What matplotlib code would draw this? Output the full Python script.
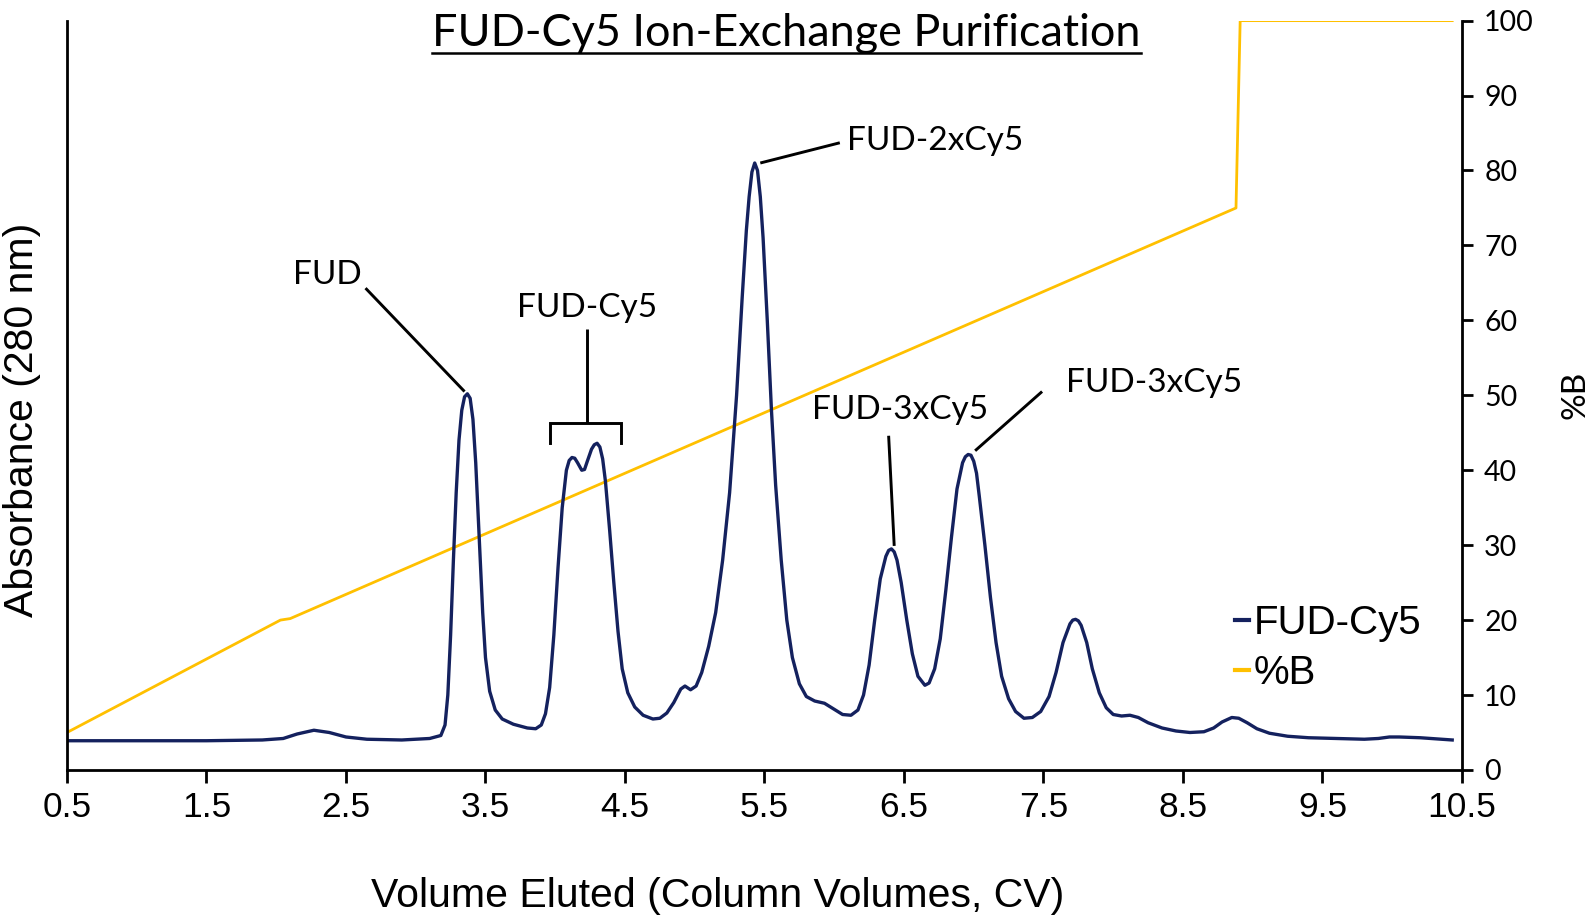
import numpy as np
import matplotlib.pyplot as plt
from matplotlib.lines import Line2D

# Elution volume (CV) and absorbance trace (arbitrary units, same scale as %B axis)
cv = [0.5, 1.0, 1.5, 1.9, 2.05, 2.15, 2.27, 2.38, 2.5, 2.65, 2.9, 3.1, 3.18,
      3.21, 3.23, 3.25, 3.27, 3.29, 3.31, 3.33, 3.35, 3.37, 3.39, 3.41, 3.43, 3.44,
      3.46, 3.48, 3.50, 3.53, 3.57, 3.62, 3.70, 3.80, 3.86, 3.90, 3.93,
      3.96, 3.99, 4.02, 4.05, 4.08, 4.10, 4.12, 4.14, 4.16, 4.19, 4.21, 4.23, 4.26,
      4.28, 4.30, 4.32, 4.34, 4.36,
      4.39, 4.42, 4.45, 4.48, 4.52, 4.57, 4.63, 4.70, 4.75, 4.80, 4.85, 4.90, 4.93,
      4.97, 5.01, 5.05, 5.10,
      5.15, 5.20, 5.25, 5.30, 5.34, 5.37, 5.39, 5.41, 5.43, 5.45, 5.47, 5.49, 5.52,
      5.55, 5.58, 5.62, 5.66, 5.70, 5.75, 5.80, 5.86, 5.93, 6.00, 6.06, 6.12, 6.17,
      6.21, 6.25, 6.29, 6.33, 6.37, 6.39, 6.41, 6.43, 6.45, 6.48, 6.52, 6.56, 6.60,
      6.65, 6.68, 6.72, 6.76, 6.80, 6.84, 6.88, 6.92, 6.94, 6.96, 6.98, 7.00, 7.02,
      7.04, 7.08, 7.12, 7.16, 7.20, 7.25, 7.30, 7.36, 7.42, 7.48, 7.54, 7.59, 7.64,
      7.69, 7.71, 7.73, 7.75, 7.77, 7.81, 7.85, 7.90,
      7.95, 8.00, 8.06, 8.12, 8.18, 8.25, 8.35, 8.45, 8.55, 8.65, 8.72, 8.78, 8.85,
      8.90, 8.96, 9.03, 9.12, 9.25, 9.40, 9.60, 9.80, 9.90, 9.98, 10.05, 10.20, 10.43]
absorb = [3.9, 3.9, 3.9, 4.0, 4.2, 4.8, 5.3, 5.0, 4.4, 4.1, 4.0, 4.2, 4.6,
          6.0, 10, 18, 28, 37, 44, 48, 49.8, 50.2, 49.6, 46.8, 41, 37,
          29, 21, 15, 10.5, 8.0, 6.8, 6.1, 5.6, 5.5, 6.0, 7.5,
          11, 18, 27, 35, 40, 41.3, 41.7, 41.6, 41.0, 40.0, 40.1, 41.2, 42.8,
          43.4, 43.6, 43.1, 41.5, 38.5,
          32, 25, 18.5, 13.5, 10.3, 8.4, 7.3, 6.8, 6.9, 7.6, 9.0, 10.8, 11.2,
          10.7, 11.2, 13, 16.5,
          21, 28, 37, 50, 63, 72, 76.5, 79.8, 81, 80, 76.5, 71, 60,
          48, 38, 28, 20, 15, 11.5, 9.8, 9.2, 8.9, 8.1, 7.4, 7.3, 8.0,
          10, 14, 20, 25.5, 28.5, 29.3, 29.5, 29.1, 28.0, 25, 20, 15.5, 12.5,
          11.3, 11.6, 13.5, 17.5, 24, 31, 37.5, 41, 41.8, 42.1, 42.0, 41.2, 39.6,
          36.5, 30, 23, 17, 12.5, 9.5, 7.8, 6.9, 7.0, 7.8, 9.8, 13, 17,
          19.5, 20.0, 20.1, 19.9, 19.3, 17, 13.5, 10.3,
          8.3, 7.4, 7.2, 7.3, 7.0, 6.3, 5.6, 5.2, 5.0, 5.1, 5.6, 6.4, 7.0,
          6.9, 6.3, 5.5, 4.9, 4.5, 4.3, 4.2, 4.1, 4.2, 4.4, 4.4, 4.3, 4.0]

# Gradient (%B)
cv_b = [0.5, 2.03, 2.10, 8.88, 8.91, 10.43]
pct_b = [5.0, 20.0, 20.2, 75.0, 100.0, 100.0]

x_ticks = [0.5, 1.5, 2.5, 3.5, 4.5, 5.5, 6.5, 7.5, 8.5, 9.5, 10.5]
b_ticks = [0, 10, 20, 30, 40, 50, 60, 70, 80, 90, 100]

navy = '#14215e'
gold = '#ffc000'
calibri = ['Lato', 'DejaVu Sans']
arial = ['Liberation Sans', 'DejaVu Sans']

fig = plt.figure(figsize=(15.95, 9.21), dpi=100)
ax = fig.add_axes([0.042, 0.164, 0.8746, 0.8136])
ax2 = ax.twinx()

ax.plot(cv, absorb, color=navy, lw=2.4, label='FUD-Cy5', solid_joinstyle='round')
ax2.plot(cv_b, pct_b, color=gold, lw=2.0, label='%B')
ax.set_zorder(ax2.get_zorder() + 1)
ax.patch.set_visible(False)

ax.set_xlim(0.5, 10.5)
ax.set_ylim(0, 100)
ax2.set_ylim(0, 100)
ax.set_xticks(x_ticks)
ax.set_xticklabels([f'{t:.1f}' for t in x_ticks], family=arial, fontsize=25.5)
ax.set_yticks([])
ax2.set_yticks(b_ticks)
ax2.set_yticklabels([str(t) for t in b_ticks], family=calibri, fontsize=20.5)

for a in (ax, ax2):
    a.spines['top'].set_visible(False)
    for s in a.spines.values():
        s.set_linewidth(2.0)
ax.spines['right'].set_visible(False)
ax2.spines['left'].set_visible(False)
ax2.spines['bottom'].set_visible(False)
ax.tick_params(axis='x', direction='out', length=9, width=2.0, pad=6)
ax2.tick_params(axis='y', direction='out', length=8, width=2.0, pad=8)

fig.text(0.450, 0.027, 'Volume Eluted (Column Volumes, CV)', family=arial,
         fontsize=29.5, ha='center', va='center')
fig.text(0.014, 0.544, 'Absorbance (280 nm)', family=arial, fontsize=29.5,
         rotation=90, ha='center', va='center')
fig.text(0.9875, 0.571, '%B', family=calibri, fontsize=24, rotation=90,
         ha='center', va='center')

title = fig.text(0.493, 0.9635, 'FUD-Cy5 Ion-Exchange Purification', family=calibri,
                 fontsize=32.4, ha='center', va='center')

# peak annotations
ann = dict(color='black', lw=2.1, solid_capstyle='butt')
fs = 24
ax.text(2.37, 66.1, 'FUD', family=calibri, fontsize=fs, ha='center', va='center')
ax.plot([2.64, 3.35], [64.3, 50.5], **ann)
ax.text(4.23, 61.7, 'FUD-Cy5', family=calibri, fontsize=fs, ha='center', va='center')
ax.plot([4.23, 4.23], [58.9, 46.3], **ann)
ax.plot([3.96, 3.96, 4.47, 4.47], [43.7, 46.3, 46.3, 43.7], color='black', lw=2.1,
        solid_joinstyle='miter')
ax.text(6.09, 83.9, 'FUD-2xCy5', family=calibri, fontsize=fs, ha='left', va='center')
ax.plot([5.47, 6.04], [81.0, 83.7], **ann)
ax.text(6.47, 48.0, 'FUD-3xCy5', family=calibri, fontsize=fs, ha='center', va='center')
ax.plot([6.39, 6.43], [44.6, 29.9], **ann)
ax.text(7.66, 51.6, 'FUD-3xCy5', family=calibri, fontsize=fs, ha='left', va='center')
ax.plot([7.01, 7.49], [42.6, 50.5], **ann)

handles = [Line2D([], [], color=navy, lw=3), Line2D([], [], color=gold, lw=3)]
fig.legend(handles, ['FUD-Cy5', '%B'], loc='upper left', bbox_to_anchor=(0.7745, 0.344),
           frameon=False, prop={'family': arial, 'size': 29}, handlelength=0.35,
           handletextpad=0.1, labelspacing=0.3, borderpad=0, borderaxespad=0)

# underline the title
fig.canvas.draw()
bb = title.get_window_extent().transformed(fig.transFigure.inverted())
fig.add_artist(Line2D([bb.x0, bb.x1], [0.9425, 0.9425], color='black', lw=1.8,
                      transform=fig.transFigure))

fig.savefig('out.png', dpi=100)
